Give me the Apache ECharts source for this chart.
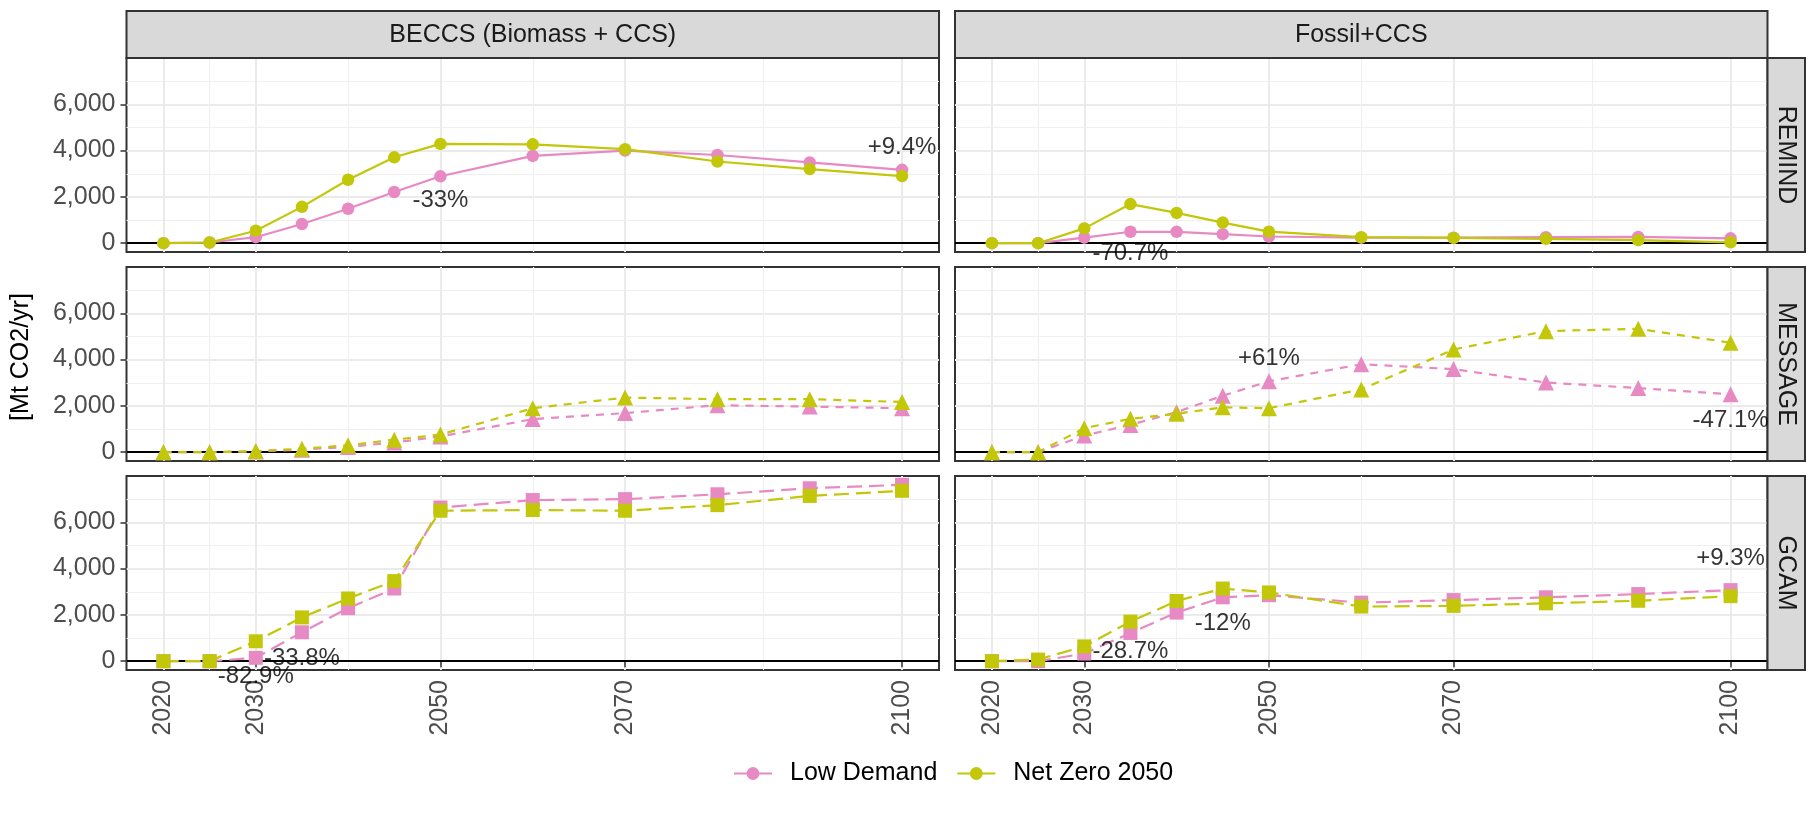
<!DOCTYPE html>
<html><head><meta charset="utf-8">
<script src="https://cdn.jsdelivr.net/npm/echarts@6/dist/echarts.min.js"></script>
<style>html,body{margin:0;padding:0;background:#fff}#c{width:1806px;height:818px}</style>
</head><body><div id="c"></div>
<script>
// ---------------- data ----------------
const years = [2020, 2025, 2030, 2035, 2040, 2045, 2050, 2060, 2070, 2080, 2090, 2100];
const technologies = ['BECCS (Biomass + CCS)', 'Fossil+CCS'];
const models = ['REMIND', 'MESSAGE', 'GCAM'];
const scenarios = ['Low Demand', 'Net Zero 2050'];

const beccsRemindLow  = [0, 30, 260, 830, 1490, 2210, 2890, 3770, 4000, 3810, 3490, 3170];
const beccsRemindNZ   = [0, 30, 540, 1570, 2740, 3710, 4290, 4270, 4060, 3530, 3200, 2900];
const beccsMessageLow = [0, 0, 30, 110, 230, 420, 680, 1430, 1690, 2030, 1970, 1900];
const beccsMessageNZ  = [0, 0, 50, 150, 300, 540, 760, 1900, 2360, 2290, 2290, 2170];
const beccsGcamLow    = [0, 0, 147, 1250, 2290, 3140, 6640, 6960, 7000, 7210, 7470, 7620];
const beccsGcamNZ     = [0, 0, 860, 1890, 2710, 3460, 6500, 6530, 6500, 6740, 7140, 7360];
const fossilRemindLow = [0, 0, 240, 495, 490, 390, 290, 240, 240, 260, 270, 210];
const fossilRemindNZ  = [0, 0, 640, 1690, 1310, 890, 500, 260, 230, 190, 130, 40];
const fossilMessageLow= [0, 0, 720, 1180, 1730, 2440, 3060, 3800, 3590, 3010, 2770, 2500];
const fossilMessageNZ = [0, 0, 1040, 1440, 1660, 1940, 1900, 2710, 4440, 5230, 5330, 4730];
const fossilGcamLow   = [0, 0, 330, 1220, 2100, 2760, 2850, 2530, 2640, 2760, 2900, 3070];
const fossilGcamNZ    = [0, 70, 640, 1710, 2600, 3140, 2970, 2360, 2390, 2500, 2610, 2810];

// percent-difference annotations: [text, year, y-anchor]
const beccsRemindNotes  = [['-33%', 2050, 1830], ['+9.4%', 2100, 4140]];
const beccsMessageNotes = [];
const beccsGcamNotes    = [['-82.9%', 2030, -640], ['-33.8%', 2035, 140]];
const fossilRemindNotes = [['-70.7%', 2035, -430]];
const fossilMessageNotes= [['+61%', 2050, 4040], ['-47.1%', 2100, 1360]];
const fossilGcamNotes   = [['-28.7%', 2035, 430], ['-12%', 2045, 1640], ['+9.3%', 2100, 4430]];

const yTicks = [0, 2000, 4000, 6000];
const yMinorTicks = [1000, 3000, 5000, 7000];
const xTicks = [2020, 2030, 2050, 2070, 2100];
const xMinorTicks = [2025, 2040, 2060, 2085];
const yAxisTitle = '[Mt CO2/yr]';

// ---------------- layout / style ----------------
const panelData = [
  [[beccsRemindLow, beccsRemindNZ, beccsRemindNotes], [fossilRemindLow, fossilRemindNZ, fossilRemindNotes]],
  [[beccsMessageLow, beccsMessageNZ, beccsMessageNotes], [fossilMessageLow, fossilMessageNZ, fossilMessageNotes]],
  [[beccsGcamLow, beccsGcamNZ, beccsGcamNotes], [fossilGcamLow, fossilGcamNZ, fossilGcamNotes]]
];
const FONT = '"Liberation Sans", Arial, Helvetica, sans-serif';
const colors = ['#E78AC3', '#C2C70A'];
const modelSymbol = ['circle', 'triangle', 'rect'];
const modelSymbolSize = [12.5, 16, 14];
const modelDash = ['solid', [8, 7], [15, 7]];
const colLeft = [126.5, 955];
const colWidth = 812.5;
const rowTop = [58, 267, 476];
const rowHeight = 194;
const stripTop = 11;
const stripRight = 1805;
const X_MIN = 2016, X_MAX = 2104, Y_MIN = -380, Y_MAX = 8000;

const grids = [], xAxes = [], yAxes = [], series = [], graphics = [];
const fmt = v => String(v).replace(/\B(?=(\d{3})+(?!\d))/g, ',');

for (let r = 0; r < 3; r++) {
  for (let c = 0; c < 2; c++) {
    const idx = r * 2 + c;
    grids.push({left: colLeft[c], top: rowTop[r], width: colWidth, height: rowHeight,
      show: true, backgroundColor: '#fff', borderColor: '#333', borderWidth: 2,
      containLabel: false, outerBoundsMode: 'none'});
    const isBottom = r === 2, isLeft = c === 0;
    xAxes.push({gridIndex: idx, type: 'value', min: X_MIN, max: X_MAX, position: 'bottom',
      axisLine: {show: false},
      axisTick: {show: isBottom, customValues: xTicks, length: 6, lineStyle: {color: '#333', width: 1.5}},
      axisLabel: {show: isBottom, customValues: xTicks, rotate: 90, margin: 10, fontSize: 25,
        color: '#4d4d4d', fontFamily: FONT, formatter: v => String(v)},
      splitLine: {show: true, lineStyle: {color: '#ebebeb', width: 2}}});
    xAxes.push({gridIndex: idx, type: 'value', min: X_MIN, max: X_MAX, position: 'bottom',
      axisLine: {show: false}, axisTick: {show: false, customValues: xMinorTicks},
      axisLabel: {show: false, customValues: xMinorTicks},
      splitLine: {show: true, lineStyle: {color: '#f0f0f0', width: 1.2}}});
    yAxes.push({gridIndex: idx, type: 'value', min: Y_MIN, max: Y_MAX, position: 'left',
      axisLine: {show: false},
      axisTick: {show: isLeft, customValues: yTicks, length: 6, lineStyle: {color: '#333', width: 1.5}},
      axisLabel: {show: isLeft, customValues: yTicks, margin: 11, fontSize: 25, color: '#4d4d4d',
        fontFamily: FONT, formatter: v => fmt(v)},
      splitLine: {show: true, lineStyle: {color: '#ebebeb', width: 2}}});
    yAxes.push({gridIndex: idx, type: 'value', min: Y_MIN, max: Y_MAX, position: 'left',
      axisLine: {show: false}, axisTick: {show: false, customValues: yMinorTicks},
      axisLabel: {show: false, customValues: yMinorTicks},
      splitLine: {show: true, lineStyle: {color: '#f0f0f0', width: 1.2}}});

    const [low, nz, notes] = panelData[r][c];
    series.push({type: 'line', xAxisIndex: idx * 2, yAxisIndex: idx * 2, data: [], silent: true, z: 2,
      markLine: {symbol: ['none', 'none'], silent: true, z: 2, animation: false,
        label: {show: false}, lineStyle: {color: '#000', width: 2.2, type: 'solid'},
        emphasis: {disabled: true}, data: [{yAxis: 0}]}});
    [low, nz].forEach((vals, s) => {
      series.push({type: 'line', name: scenarios[s], xAxisIndex: idx * 2, yAxisIndex: idx * 2,
        data: years.map((y, i) => [y, vals[i]]),
        symbol: modelSymbol[r], symbolSize: modelSymbolSize[r], showSymbol: true,
        lineStyle: {color: colors[s], width: 2.2, type: modelDash[r]},
        itemStyle: {color: colors[s]}, z: 3 + s, clip: false,
        emphasis: {disabled: true}, animation: false});
    });
    if (notes.length) {
      series.push({type: 'scatter', xAxisIndex: idx * 2, yAxisIndex: idx * 2, silent: true, clip: false,
        symbolSize: 1, itemStyle: {color: 'rgba(0,0,0,0)'}, z: 10, animation: false,
        data: notes.map(n => ({value: [n[1], n[2]], label: {formatter: n[0]}})),
        label: {show: true, position: 'inside', fontSize: 24, color: '#000', fontFamily: FONT}});
    }
  }
}

technologies.forEach((t, c) => {
  graphics.push({type: 'rect', silent: true, z: 5,
    shape: {x: colLeft[c], y: stripTop, width: colWidth, height: rowTop[0] - stripTop},
    style: {fill: '#d9d9d9', stroke: '#333', lineWidth: 2}});
  graphics.push({type: 'text', silent: true, z: 6, x: colLeft[c] + colWidth / 2, y: (stripTop + rowTop[0]) / 2 + 1,
    style: {text: t, fontSize: 25, fontFamily: FONT, fill: '#1a1a1a', align: 'center', verticalAlign: 'middle'}});
});
const rsLeft = colLeft[1] + colWidth;
models.forEach((m, r) => {
  graphics.push({type: 'rect', silent: true, z: 5,
    shape: {x: rsLeft, y: rowTop[r], width: stripRight - rsLeft, height: rowHeight},
    style: {fill: '#d9d9d9', stroke: '#333', lineWidth: 2}});
  graphics.push({type: 'text', silent: true, z: 6, x: (rsLeft + stripRight) / 2, y: rowTop[r] + rowHeight / 2,
    rotation: -Math.PI / 2,
    style: {text: m, fontSize: 25, fontFamily: FONT, fill: '#1a1a1a', align: 'center', verticalAlign: 'middle'}});
});
graphics.push({type: 'text', silent: true, z: 6, x: 21, y: 357,
  rotation: Math.PI / 2,
  style: {text: yAxisTitle, fontSize: 25, fontFamily: FONT, fill: '#000', align: 'center', verticalAlign: 'middle'}});

const chart = echarts.init(document.getElementById('c'), null, {renderer: 'canvas'});
chart.setOption({
  animation: false,
  backgroundColor: '#fff',
  textStyle: {fontFamily: FONT},
  grid: grids, xAxis: xAxes, yAxis: yAxes, series: series, graphic: graphics,
  legend: {data: scenarios, left: 728, top: 756, itemWidth: 38, itemHeight: 16, itemGap: 19,
    textStyle: {fontSize: 25, color: '#000', fontFamily: FONT, padding: [0, 0, 0, 13]}, selectedMode: false}
});
</script></body></html>
